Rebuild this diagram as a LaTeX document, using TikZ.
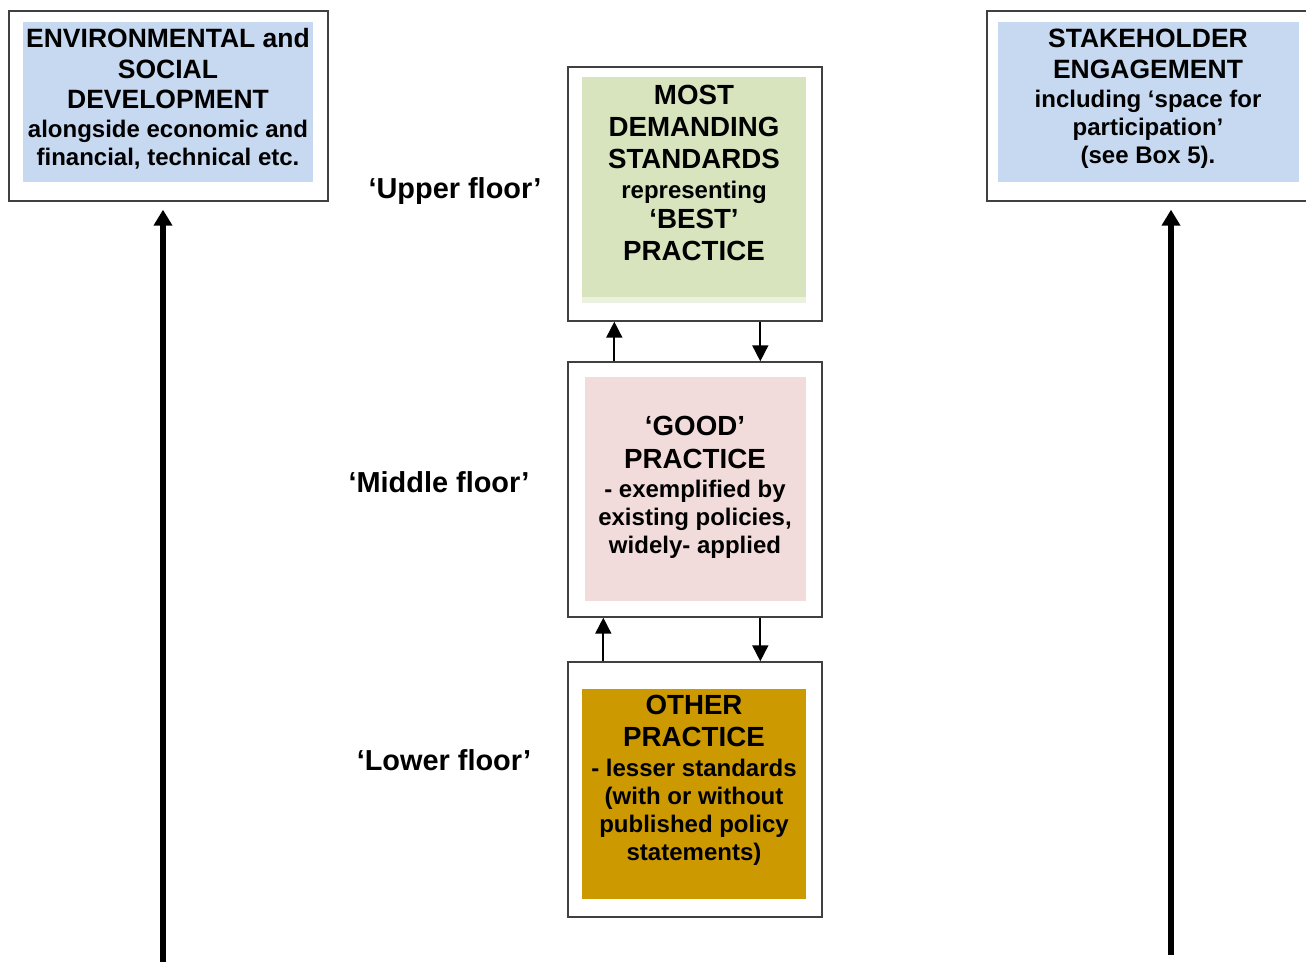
\documentclass[tikz,border=0pt]{standalone}
\usepackage{fontspec}
\setmainfont{Liberation Sans}
\usetikzlibrary{arrows.meta}
\definecolor{boxblue}{HTML}{C6D9F1}
\definecolor{boxgreen}{HTML}{D7E4BD}
\definecolor{boxgreenlight}{HTML}{EBF1DE}
\definecolor{boxpink}{HTML}{F2DCDB}
\definecolor{boxgold}{HTML}{CC9900}
\newcommand{\bigA}[1]{{\fontsize{13.25}{15.5}\selectfont #1}}
\newcommand{\bigB}[1]{{\fontsize{13.85}{16}\selectfont #1}}
\begin{document}
\begin{tikzpicture}[x=0.5pt,y=-0.5pt,
  outerbox/.style={draw=black!75,line width=0.7pt,fill=white,inner sep=0pt},
  fillbox/.style={inner sep=0pt,draw=none},
  boxtext/.style={inner sep=0pt,align=center,font=\bfseries\fontsize{12}{14}\selectfont},
  floorlabel/.style={inner sep=0pt,font=\bfseries\fontsize{14.45}{17}\selectfont},
  bigarrow/.style={line width=3pt,-{Triangle[width=9pt,length=8pt]}},
  sarrow/.style={line width=0.85pt,-{Triangle[width=8pt,length=8pt]}}]
\useasboundingbox (0,0) rectangle (1306,962);
\clip (0,0) rectangle (1306,962);

% side boxes
\node[outerbox,minimum width=159.5pt,minimum height=95pt] (envouter) at (168.5,106) {};
\node[fillbox,fill=boxblue,minimum width=145pt,minimum height=80pt] (envfill) at (168,102) {};
\node[boxtext] (envtext) at (168,99) {\bigA{ENVIRONMENTAL and}\\[1.5pt]\bigA{SOCIAL}\\[1pt]\bigA{DEVELOPMENT}\\[0.5pt]alongside economic and\\financial, technical etc.};

\node[outerbox,minimum width=166.5pt,minimum height=95pt] (stkouter) at (1153.5,106) {};
\node[fillbox,fill=boxblue,minimum width=150.5pt,minimum height=80pt] (stkfill) at (1148.5,102) {};
\node[boxtext] (stktext) at (1148,98.5) {\bigA{STAKEHOLDER}\\[1.5pt]\bigA{ENGAGEMENT}\\[0.5pt]including ‘space for\\participation’\\(see Box 5).};

% middle column
\node[outerbox,minimum width=127pt,minimum height=127pt] (topouter) at (695,194) {};
\node[fillbox,fill=boxgreenlight,minimum width=112pt,minimum height=3pt] (topstrip) at (694,300) {};
\node[fillbox,fill=boxgreen,minimum width=112pt,minimum height=110pt] (topfill) at (694,187) {};
\node[boxtext] (toptext) at (694,173) {\bigB{MOST}\\[2pt]\bigB{DEMANDING}\\[2pt]\bigB{STANDARDS}\\[1pt]representing\\[1pt]\bigB{‘BEST’}\\[2pt]\bigB{PRACTICE}};

\node[outerbox,minimum width=127pt,minimum height=127.5pt] (midouter) at (695,489.5) {};
\node[fillbox,fill=boxpink,minimum width=110.5pt,minimum height=112pt] (midfill) at (695.5,489) {};
\node[boxtext] (midtext) at (695,487.5) {\bigB{‘GOOD’}\\[2.5pt]\bigB{PRACTICE}\\[0.5pt]- exemplified by\\existing policies,\\widely- applied};

\node[outerbox,minimum width=127pt,minimum height=127.5pt] (lowouter) at (695,789.5) {};
\node[fillbox,fill=boxgold,minimum width=112pt,minimum height=105pt] (lowfill) at (694,794) {};
\node[boxtext] (lowtext) at (694,780) {\bigB{OTHER}\\[2pt]\bigB{PRACTICE}\\[1pt]- lesser standards\\(with or without\\published policy\\statements)};

% floor labels
\node[floorlabel] (upperlbl) at (455,191) {‘Upper floor’};
\node[floorlabel] (middlelbl) at (439,482) {‘Middle floor’};
\node[floorlabel] (lowerlbl) at (444,760) {‘Lower floor’};

% small connectors
\draw[sarrow] ([xshift=23.5pt]midouter.north west) -- ([xshift=23.5pt]topouter.south west);
\draw[sarrow] ([xshift=96.5pt]topouter.south west) -- ([xshift=96.5pt]midouter.north west);
\draw[sarrow] ([xshift=18pt]lowouter.north west) -- ([xshift=18pt]midouter.south west);
\draw[sarrow] ([xshift=96.5pt]midouter.south west) -- ([xshift=96.5pt]lowouter.north west);

% long arrows
\coordinate (lstart) at (163,964);
\coordinate (rstart) at (1171,955);
\draw[bigarrow] (lstart) -- ([yshift=-4pt]envouter.south -| lstart);
\draw[bigarrow] (rstart) -- ([yshift=-4pt]stkouter.south -| rstart);
\end{tikzpicture}
\end{document}
